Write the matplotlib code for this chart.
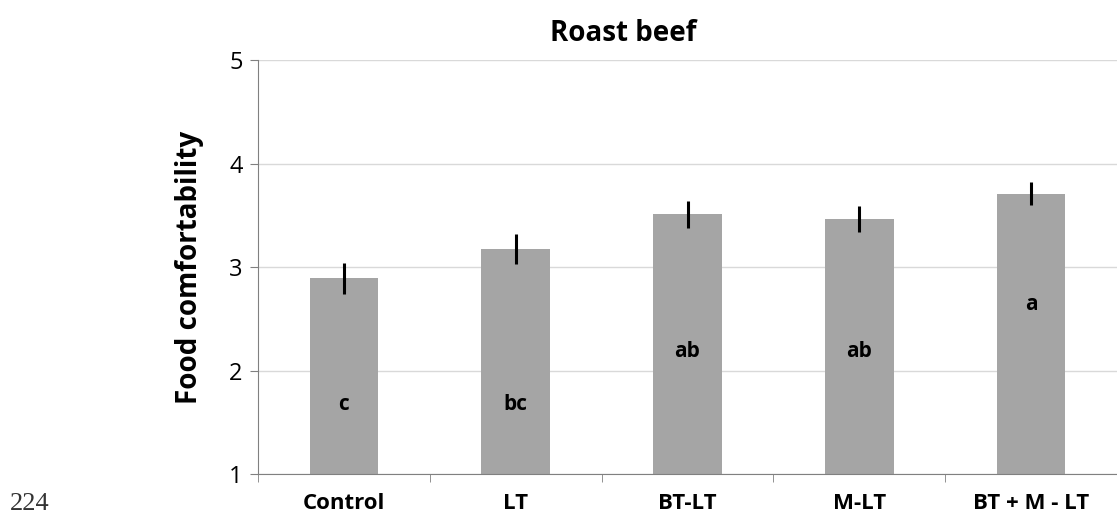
import matplotlib.pyplot as plt
import numpy as np

plt.rcParams['font.family'] = ['Open Sans', 'DejaVu Sans']

# data
categories = ['Control', 'LT', 'BT-LT', 'M-LT', 'BT + M - LT']
means = [2.89, 3.17, 3.51, 3.46, 3.71]
errors = [0.15, 0.145, 0.13, 0.125, 0.115]
letters = ['c', 'bc', 'ab', 'ab', 'a']
letter_y = [1.67, 1.67, 2.18, 2.18, 2.64]

fig = plt.figure(figsize=(11.17, 5.2), dpi=100)
ax = fig.add_axes([0.231, 0.0885, 0.769, 0.796])

x = np.arange(len(categories))
ax.bar(x, [m - 1 for m in means], bottom=1, width=0.4, color='#a5a5a5', zorder=2)
ax.errorbar(x, means, yerr=errors, fmt='none', ecolor='black', elinewidth=2.2, capsize=0, zorder=3)

for xi, lab, ly in zip(x, letters, letter_y):
    ax.text(xi, ly, lab, ha='center', va='center', fontsize=15, fontweight='bold', zorder=4)

ax.set_xlim(-0.5, len(categories) - 0.5)
ax.set_ylim(1, 5)
ax.set_yticks([1, 2, 3, 4, 5])
ax.yaxis.grid(True, color='#d9d9d9', linewidth=1, zorder=0)
ax.set_axisbelow(True)

# category ticks sit between the bars
ax.set_xticks(x)
ax.set_xticklabels(categories, fontsize=16, fontweight='bold')
ax.set_xticks(np.arange(len(categories) + 1) - 0.5, minor=True)
ax.tick_params(axis='x', which='major', length=0, pad=14)
ax.tick_params(axis='x', which='minor', length=6, color='#808080', direction='out')
ax.tick_params(axis='y', labelsize=17, length=6, color='#808080', pad=5)

for s in ['top', 'right']:
    ax.spines[s].set_visible(False)
for s in ['left', 'bottom']:
    ax.spines[s].set_color('#808080')

ax.set_ylabel('Food comfortability', fontsize=20, fontweight='bold', labelpad=18)
ax.set_title('Roast beef', fontsize=20, fontweight='bold', pad=14, x=0.425)

fig.text(0.009, 0.02, '224', fontsize=19, family=['Liberation Serif', 'DejaVu Serif'], color='#333333')

fig.savefig('out.png', dpi=100)
